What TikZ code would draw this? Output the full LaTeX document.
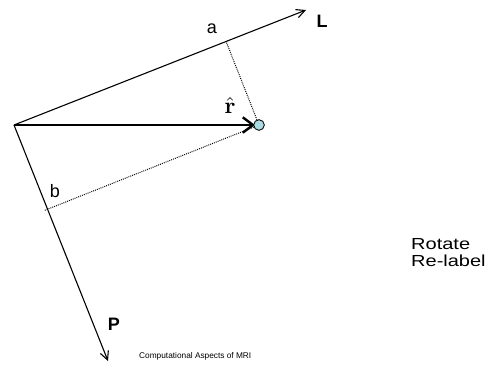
\documentclass[tikz,border=0pt]{standalone}
\usepackage[no-math]{fontspec}
\setmainfont{Liberation Sans}
\newfontfamily\widefont[FakeStretch=1.25]{Liberation Sans}
\usetikzlibrary{arrows.meta, calc}
\definecolor{cDot}{RGB}{170,220,226}
\tikzset{
	axisarrow/.style={-{Straight Barb[length=3mm, width=3mm, line width=1.1pt]}, line width=1.1pt},
	rvec/.style     ={-{Straight Barb[length=3.6mm, width=5.4mm, line width=2.4pt]}, line width=2.4pt},
	proj/.style     ={dash pattern=on 0.9pt off 1.1pt, line width=1pt},
	lbl/.style      ={inner sep=0pt, font=\fontsize{18}{20}\selectfont},
	axlbl/.style    ={inner sep=0pt, font=\fontsize{18}{20}\selectfont\bfseries},
	pt/.style       ={circle, draw=black, line width=0.7pt, fill=cDot, minimum size=10.5pt, inner sep=0pt},
}
\begin{document}
\begin{tikzpicture}[x=1pt, y=-1pt]
	\useasboundingbox (0,0) rectangle (492,364);
	\coordinate (O) at (14,125);
	\coordinate (Lend) at (306,10);
	\coordinate (Pend) at (108,361);
	\node[pt] (dot) at (259,125) {};
	\coordinate (tip) at (255,125);
	% feet of the projections
	\coordinate (fa) at ($(O)!(dot)!(Lend)$);
	\coordinate (fb) at ($(O)!(dot)!(Pend)$);
	\draw[proj] (dot) -- (fa);
	\draw[proj] (dot) -- ($(fb)!-3pt!(dot)$);
	\draw[axisarrow] (O) -- (Lend);
	\draw[axisarrow] (O) -- (Pend);
	\draw[rvec] (O) -- (tip);
	\node[pt] at (dot) {};
	\node[lbl] (a) at (212,29) {a};
	\node[lbl] (b) at (55,191) {b};
	\node[axlbl] (L) at (322,21) {L};
	\node[axlbl] (P) at (114,324) {P};
	\node[inner sep=0pt] (rhat) at (230,105.5) {\scalebox{2.3}{$\hat{\mathbf{r}}$}};
	\node[anchor=west, align=left, inner sep=0pt, font=\fontsize{16}{17}\widefont] (ops) at (411,253) {Rotate\\Re-label};
	\node[anchor=base west, inner sep=0pt, font=\fontsize{8.3}{10}\selectfont] (foot) at (139,358) {Computational Aspects of MRI};
\end{tikzpicture}
\end{document}
